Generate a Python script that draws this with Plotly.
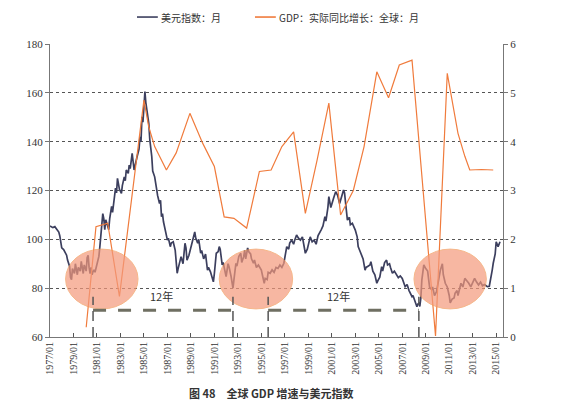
import plotly.graph_objects as go

# ---- data (US dollar index, monthly samples) ----
usd_dates = [
    "1977-01","1977-04","1977-06","1977-08","1977-10","1977-11",
    "1978-01","1978-03","1978-04","1978-06","1978-07","1978-09","1978-10","1978-11","1978-12",
    "1979-02","1979-03","1979-05","1979-06","1979-08","1979-09","1979-11","1979-12",
    "1980-02","1980-03","1980-04","1980-05","1980-06","1980-07","1980-08","1980-09","1980-10","1980-11","1980-12",
    "1981-01","1981-03","1981-04","1981-05","1981-07","1981-08","1981-09","1981-10","1981-12",
    "1982-01","1982-02","1982-04","1982-05","1982-07","1982-08","1982-09","1982-10","1982-12",
    "1983-02","1983-03","1983-05","1983-06","1983-07","1983-09","1983-10","1983-11",
    "1984-01","1984-03","1984-04","1984-06","1984-08","1984-09","1984-10","1984-11","1984-12",
    "1985-02","1985-03","1985-04","1985-06","1985-07","1985-08","1985-09","1985-10","1985-12",
    "1986-02","1986-03","1986-05","1986-06","1986-07","1986-08","1986-09","1986-11","1986-12",
    "1987-01","1987-02","1987-04","1987-05","1987-07","1987-09","1987-10","1987-11","1987-12",
    "1988-02","1988-03","1988-05","1988-07","1988-08","1988-09","1988-11",
    "1989-01","1989-03","1989-05","1989-06","1989-08","1989-09","1989-11","1989-12",
    "1990-02","1990-03","1990-04","1990-06","1990-07","1990-09","1990-10","1990-12",
    "1991-01","1991-03","1991-05","1991-06","1991-07","1991-09","1991-10","1991-12",
    "1992-01","1992-03","1992-04","1992-06","1992-08","1992-09","1992-11","1992-12",
    "1993-02","1993-04","1993-05","1993-07","1993-08","1993-09","1993-11","1993-12",
    "1994-02","1994-03","1994-05","1994-06","1994-08","1994-10","1994-12",
    "1995-01","1995-02","1995-04","1995-05","1995-07","1995-08","1995-10","1995-12",
    "1996-02","1996-04","1996-06","1996-08","1996-10","1996-12",
    "1997-02","1997-03","1997-05","1997-06","1997-08","1997-10","1997-11",
    "1998-01","1998-03","1998-05","1998-07","1998-08","1998-10","1998-12",
    "1999-02","1999-03","1999-05","1999-07","1999-09","1999-11",
    "2000-02","2000-04","2000-06","2000-07","2000-09","2000-10","2000-12",
    "2001-01","2001-03","2001-05","2001-07","2001-09","2001-11",
    "2002-01","2002-02","2002-03","2002-05","2002-07","2002-08","2002-10","2002-12",
    "2003-01","2003-03","2003-04","2003-06","2003-07","2003-09","2003-11","2003-12",
    "2004-02","2004-04","2004-05","2004-07","2004-09","2004-11","2004-12",
    "2005-02","2005-04","2005-05","2005-07","2005-09","2005-10","2005-12",
    "2006-01","2006-03","2006-05","2006-07","2006-09","2006-11",
    "2007-01","2007-04","2007-06","2007-08","2007-10","2007-11","2007-12",
    "2008-02","2008-04","2008-05","2008-06","2008-07","2008-08","2008-09","2008-10","2008-11",
    "2009-01","2009-03","2009-05","2009-07","2009-08","2009-10","2009-12",
    "2010-02","2010-04","2010-06","2010-07","2010-09","2010-11",
    "2011-01","2011-02","2011-04","2011-06","2011-07","2011-09","2011-10","2011-12",
    "2012-01","2012-03","2012-05","2012-07","2012-09","2012-11",
    "2013-01","2013-03","2013-05","2013-07","2013-09","2013-11",
    "2014-01","2014-04","2014-06","2014-08","2014-09","2014-10","2014-12",
    "2015-01","2015-03","2015-05"]
usd_values = [
    105.5,104.8,105.2,104.0,103.0,101.5,
    96.5,95.8,94.8,93.5,91.5,89.0,84.5,83.5,88.0,
    86.0,90.0,85.5,88.5,87.0,91.0,86.0,89.5,
    87.0,92.5,93.5,88.5,86.0,88.5,85.5,86.8,87.5,86.5,88.0,
    90.5,93.0,97.0,101.0,110.5,108.5,104.0,108.0,105.5,
    104.0,108.5,113.5,111.0,117.5,121.0,119.0,125.0,120.5,
    118.8,122.0,125.6,124.0,128.4,127.0,130.4,129.0,
    135.2,128.4,130.5,133.8,137.0,142.0,140.0,150.2,148.0,
    160.5,156.0,153.0,147.5,141.0,138.0,134.0,128.0,125.6,
    120.5,118.0,114.7,116.0,109.3,110.5,107.2,104.0,102.0,
    99.7,100.5,97.0,98.5,99.0,95.5,92.0,86.1,88.0,
    91.5,92.9,90.0,98.4,96.5,91.5,93.5,
    97.0,99.0,103.0,100.5,98.4,100.0,94.3,95.5,
    92.0,92.9,94.0,87.4,88.5,86.7,85.0,82.6,
    86.0,94.3,95.0,97.0,96.0,89.5,90.5,85.5,
    84.7,90.0,88.8,85.0,80.0,83.5,90.2,89.0,
    93.0,94.3,90.5,92.9,95.5,92.0,96.5,95.0,
    94.0,92.0,90.2,91.5,88.5,89.5,88.0,
    87.4,85.5,82.0,84.0,83.5,86.5,86.1,87.5,
    86.5,88.5,88.1,89.5,88.5,90.2,
    95.0,97.0,96.0,98.5,99.7,98.0,99.5,
    101.8,100.5,99.7,101.0,98.5,94.3,96.0,
    99.0,101.0,99.0,99.7,98.0,101.5,
    103.8,105.5,109.3,107.5,113.0,117.5,113.0,
    114.7,117.0,119.5,118.0,114.7,117.5,
    120.2,119.0,116.0,107.9,109.0,106.0,106.6,105.0,
    103.8,101.0,97.0,95.0,94.0,92.0,87.4,88.5,
    89.0,89.5,90.8,87.0,85.5,82.0,83.0,
    84.5,88.8,87.0,90.5,91.5,89.5,90.0,
    88.5,86.1,87.0,85.5,84.3,85.0,
    84.0,80.6,81.5,79.0,77.5,76.5,77.0,
    74.5,72.4,73.5,73.8,72.5,76.0,83.3,86.0,89.5,
    88.0,87.0,80.3,79.5,80.5,77.0,78.5,
    84.0,87.4,90.0,85.5,82.0,80.5,
    77.0,74.0,75.5,76.0,77.9,79.0,77.0,80.5,
    82.0,80.5,84.0,83.0,82.0,80.5,
    82.0,84.0,82.5,81.3,82.5,81.0,
    81.5,80.6,80.8,84.5,87.5,90.2,94.0,
    99.0,97.0,99.0]

# ---- global real GDP growth (%) ----
gdp_dates = ["1980-02","1980-12","1981-12","1982-12","1985-01","1985-06","1985-12","1986-12",
    "1987-10","1988-12","1990-01","1991-01","1991-11","1992-09","1993-10","1994-11",
    "1995-11","1996-10","1997-10","1998-10","1999-10","2000-10","2001-10","2002-11",
    "2003-10","2004-11","2005-11","2006-10","2007-11","2009-11","2010-11","2011-10",
    "2012-05","2012-10","2013-10","2014-10"]
gdp_values = [0.2,2.26,2.33,0.83,4.85,4.3,3.9,3.42,
    3.77,4.58,3.97,3.49,2.46,2.43,2.23,3.39,
    3.42,3.9,4.2,2.53,3.62,4.79,2.5,3.0,
    3.9,5.43,4.9,5.57,5.67,0.02,5.4,4.17,
    3.7,3.42,3.43,3.42]

usd_name = "美元指数：月"
gdp_name = "GDP：实际同比增长：全球：月"
left_ticks = [60, 80, 100, 120, 140, 160, 180]
right_ticks = [0, 1, 2, 3, 4, 5, 6]

# highlighted troughs (start, end) and the two 12-year cycles
highlight_start = ["1978-05", "1991-06", "2008-01"]
highlight_end = ["1984-07", "1997-09", "2014-03"]
cycle_start = ["1980-09", "1995-08"]
cycle_end = ["1992-08", "2008-06"]
cycle_label_at = ["1986-07", "2001-08"]
cycle_label = "12年"
caption = "图 48　全球 GDP 增速与美元指数"

assert len(usd_dates) == len(usd_values)
assert len(gdp_dates) == len(gdp_values)

NAVY = "#3c3f5e"
ORANGE = "#f07b3c"
SERIF = "Liberation Serif"
CJK = "Noto Sans CJK SC"

fig = go.Figure()
fig.add_trace(go.Scatter(x=usd_dates, y=usd_values, name=usd_name, mode="lines",
                         line=dict(color=NAVY, width=1.7)))
fig.add_trace(go.Scatter(x=gdp_dates, y=gdp_values, name=gdp_name, mode="lines",
                         line=dict(color=ORANGE, width=1.2), yaxis="y2"))

shapes = []
for s, e in zip(highlight_start, highlight_end):
    shapes.append(dict(type="circle", xref="x", yref="y", x0=s, x1=e, y0=71.5, y1=96,
                       fillcolor="#f4997c", opacity=0.7, layer="above",
                       line=dict(color="#f39a5a", width=1)))
for s, e in zip(cycle_start, cycle_end):
    shapes.append(dict(type="line", xref="x", yref="y", x0=s, x1=e, y0=71, y1=71,
                       line=dict(color="#6f6f62", width=3, dash="13px,12px"), layer="above"))
    for d in (s, e):
        shapes.append(dict(type="line", xref="x", yref="y", x0=d, x1=d, y0=60, y1=76.5,
                           line=dict(color="#555555", width=1.5, dash="10px,6px"), layer="above"))

# legend drawn by hand (line samples + labels) above the plot
legend_items = [(usd_name, NAVY, 0.192), (gdp_name, ORANGE, 0.4525)]
annotations = []
for name, color, x0 in legend_items:
    shapes.append(dict(type="line", xref="paper", yref="paper", x0=x0, x1=x0 + 0.046,
                       y0=1.092, y1=1.092, line=dict(color=color, width=1.6)))
    annotations.append(dict(xref="paper", yref="paper", x=x0 + 0.049, y=1.092,
                            xanchor="left", yanchor="middle", showarrow=False, text=name,
                            font=dict(family=CJK, size=10, color="#333")))

for pos in cycle_label_at:
    annotations.append(dict(xref="x", yref="y", x=pos, y=76.6, showarrow=False,
                            text=cycle_label, font=dict(family=CJK, size=11, color="#333")))
annotations.append(dict(xref="paper", yref="paper", x=0.49, y=-0.191, showarrow=False,
                        text="<b>" + caption + "</b>", yanchor="middle",
                        font=dict(family=CJK, size=11, color="#333")))

# page body adds an 8px offset, so the figure is 8px smaller and margins shifted
fig.update_layout(
    width=553, height=402,
    margin=dict(l=42, r=58, t=36, b=73, autoexpand=False),
    paper_bgcolor="white", plot_bgcolor="white",
    showlegend=False,
    xaxis=dict(type="date", range=["1977-01-01", "2015-08-01"], tick0="1977-01-01",
               dtick="M24", tickformat="%Y/%m", tickangle=-90, ticks="inside", ticklen=4,
               tickcolor="#555", showline=True, linecolor="#777", linewidth=1,
               showgrid=False, automargin=False,
               tickfont=dict(family=SERIF, size=10, color="#333")),
    yaxis=dict(range=[60, 180], tickvals=left_ticks, ticks="outside", ticklen=4,
               tickcolor="#777", showline=True, linecolor="#777", linewidth=1,
               showgrid=True, gridcolor="#555", griddash="3px,3px", gridwidth=1,
               zeroline=False, automargin=False,
               tickfont=dict(family=SERIF, size=11, color="#333")),
    yaxis2=dict(range=[0, 6], tickvals=right_ticks, overlaying="y", side="right",
                ticks="outside", ticklen=4, tickcolor="#777", showline=True,
                linecolor="#777", linewidth=1, showgrid=False, zeroline=False,
                automargin=False,
                tickfont=dict(family=SERIF, size=11, color="#333")),
    shapes=shapes, annotations=annotations,
)

fig.write_html("out.html")
